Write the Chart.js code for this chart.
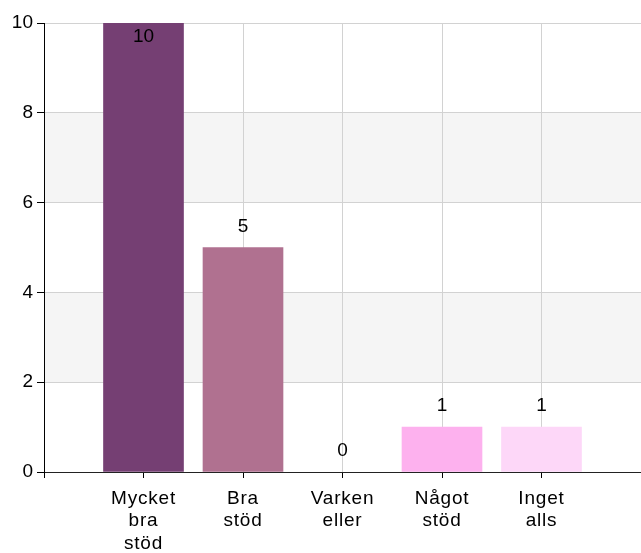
<!DOCTYPE html>
<html>
<head>
<meta charset="utf-8">
<script src="https://cdn.jsdelivr.net/npm/chart.js@4/dist/chart.umd.min.js"></script>
<style>
  html, body { margin: 0; padding: 0; background: #fff; }
  canvas { display: block; }
</style>
</head>
<body>
<canvas id="myChart" width="641" height="553"></canvas>
<script>
const categories = [
  ['Mycket', 'bra', 'stöd'],
  ['Bra', 'stöd'],
  ['Varken', 'eller'],
  ['Något', 'stöd'],
  ['Inget', 'alls']
];
const values = [10, 5, 0, 1, 1];
const barColors = ['#753f73', '#b07190', '#e08ac4', '#fdb1ee', '#fdd7f8'];
const yTicks = [0, 2, 4, 6, 8, 10];
const bands = [[2, 4], [6, 8]];

// blank slot on each side so the bars sit on the inner grid lines
const labels = [''].concat(categories, ['']);
const data = [null].concat(values, [null]);
const colors = ['#fff'].concat(barColors, ['#fff']);
const FONT = '"Liberation Sans", Arial, sans-serif';

const bandPlugin = {
  id: 'bands',
  beforeDraw(chart) {
    const {ctx, chartArea, scales} = chart;
    ctx.save();
    ctx.fillStyle = '#f5f5f5';
    bands.forEach(([lo, hi]) => {
      const yTop = scales.y.getPixelForValue(hi);
      const yBot = scales.y.getPixelForValue(lo);
      ctx.fillRect(chartArea.left, yTop, chartArea.right - chartArea.left, yBot - yTop);
    });
    ctx.restore();
    // x labels in the reference are a bit wider than plain Arial
    ctx.letterSpacing = '0.8px';
  }
};

const valueLabels = {
  id: 'valueLabels',
  afterDatasetsDraw(chart) {
    const {ctx, chartArea} = chart;
    ctx.letterSpacing = '0px';
    const meta = chart.getDatasetMeta(0);
    ctx.save();
    ctx.font = '19px ' + FONT;
    ctx.fillStyle = '#000';
    ctx.textAlign = 'center';
    ctx.textBaseline = 'middle';
    meta.data.forEach((bar, i) => {
      const v = data[i];
      if (v === null) return;
      const y = Math.max(bar.y - 21, chartArea.top + 14);
      ctx.fillText(String(v), bar.x, y);
    });
    ctx.restore();
  }
};

new Chart(document.getElementById('myChart'), {
  type: 'bar',
  plugins: [bandPlugin, valueLabels],
  data: {
    labels: labels,
    datasets: [{
      data: data,
      backgroundColor: (c) => (data[c.dataIndex] ? colors[c.dataIndex] : 'rgba(0,0,0,0)'),
      borderWidth: 0,
      barThickness: 80
    }]
  },
  options: {
    responsive: false,
    animation: false,
    devicePixelRatio: 1,
    layout: { padding: { top: 23, right: 0, bottom: 0, left: 0 } },
    plugins: {
      legend: { display: false },
      tooltip: { enabled: false }
    },
    scales: {
      x: {
        offset: false,
        afterFit(scale) {
          scale.height = 81;
          scale.paddingLeft = 0;
          scale.paddingRight = 0;
        },
        grid: {
          offset: false,
          color: (c) => (c.index === labels.length - 1 ? 'rgba(0,0,0,0)' : '#d2d2d2'),
          tickColor: '#000',
          tickLength: 6
        },
        border: { color: '#222', width: 1 },
        ticks: {
          autoSkip: false,
          maxRotation: 0,
          padding: 9,
          color: '#000',
          font: { family: FONT, size: 19, lineHeight: 1.2 }
        }
      },
      y: {
        min: 0,
        max: 10,
        afterFit(scale) { scale.width = 44; },
        afterBuildTicks(scale) { scale.ticks = yTicks.map(v => ({value: v})); },
        grid: {
          color: '#d2d2d2',
          tickColor: '#000',
          tickLength: 7
        },
        border: { color: '#000', width: 1 },
        ticks: {
          z: 1,
          padding: 4,
          color: '#000',
          font: { family: FONT, size: 19 }
        }
      }
    }
  }
});
</script>
</body>
</html>
